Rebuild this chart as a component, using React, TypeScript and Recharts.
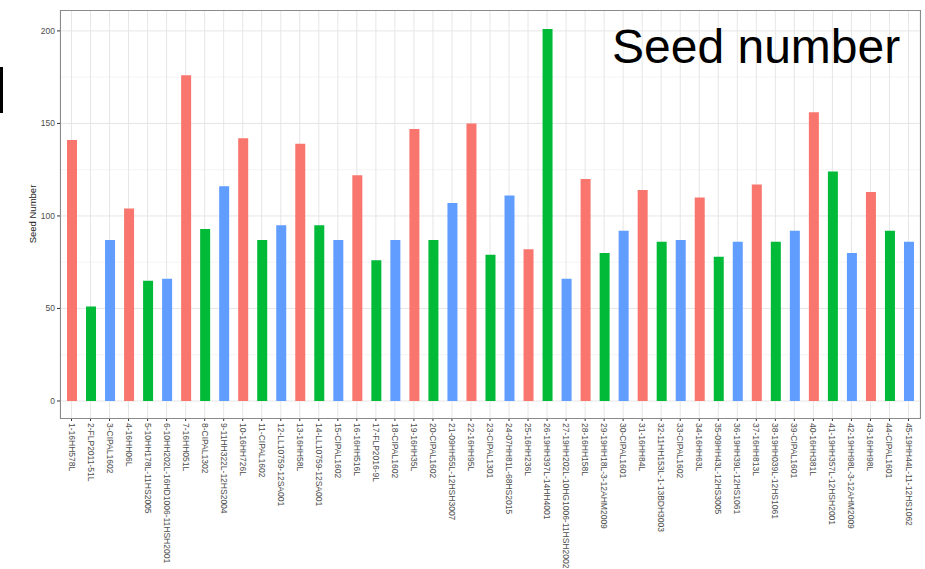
import { Bar, BarChart, CartesianGrid, Cell, Label, XAxis, YAxis } from "recharts";

const lines = [
  "1-16HH578L", "2-FLP2011-51L", "3-CIPAL1602", "4-16HH06L", "5-10HH178L-11HS2005",
  "6-10HH202L-16HD1006-11HSH2001", "7-16HH051L", "8-CIPAL1302", "9-11HH322L-12HS2004", "10-16HH726L",
  "11-CIPAL1602", "12-LL10759-12SA001", "13-16HH58L", "14-LL10759-12SA001", "15-CIPAL1602",
  "16-16HH516L", "17-FLP2016-9L", "18-CIPAL1602", "19-16HH35L", "20-CIPAL1602",
  "21-09HH55L-12HSH3007", "22-16HH95L", "23-CIPAL1301", "24-07HH81L-68HS2015", "25-16HH236L",
  "26-19HH397L-14HH4001", "27-19HH202L-10HG1006-11HSH2002", "28-16HH158L", "29-19HH18L-3-12AHM2009", "30-CIPAL1601",
  "31-16HH84L", "32-11HH153L-1-13BDH3003", "33-CIPAL1602", "34-16HH63L", "35-09HH43L-12HS3005",
  "36-19HH39L-12HS1061", "37-16HH813L", "38-19HH039L-12HS1061", "39-CIPAL1601", "40-16HH381L",
  "41-19HH357L-12HSH2001", "42-19HH98L-3-12AHM2009", "43-16HH98L", "44-CIPAL1601", "45-19HH44L-11-12HS1062",
];

const seedNumbers = [
  141, 51, 87, 104, 65, 66, 176, 93, 116, 142,
  87, 95, 139, 95, 87, 122, 76, 87, 147, 87,
  107, 150, 79, 111, 82, 201, 66, 120, 80, 92,
  114, 86, 87, 110, 78, 86, 117, 86, 92, 156,
  124, 80, 113, 92, 86,
];

// ggplot default hues, cycling red / green / blue
const groupColors = ["#F8766D", "#00BA38", "#619CFF"];
const yTicks = [0, 50, 100, 150, 200];
const yMinorTicks = [25, 75, 125, 175];

const data = lines.map((line, i) => ({ line, seeds: seedNumbers[i] }));

const font = "'Liberation Sans', Arial, sans-serif";

function LineTick({ x, y, payload }: any) {
  return (
    <text
      x={x}
      y={y}
      dy="0.35em"
      transform={`rotate(90 ${x} ${y})`}
      textAnchor="start"
      fontSize={8.5}
      fontFamily={font}
      fill="#4D4D4D"
    >
      {payload.value}
    </text>
  );
}

export default function App() {
  return (
    <div style={{ position: "absolute", left: 0, top: 0, width: 925, height: 569, background: "#fff" }}>
      <BarChart width={925} height={569} data={data} margin={{ top: 10, right: 5, bottom: 0, left: 0 }}>
        <CartesianGrid stroke="#F4F4F4" horizontalValues={yMinorTicks} vertical={false} />
        <CartesianGrid stroke="#E6E6E6" horizontalValues={yTicks} />
        <XAxis
          dataKey="line"
          interval={0}
          height={151}
          padding={{ left: 2, right: 2 }}
          axisLine={false}
          tickSize={3}
          tickLine={{ stroke: "#333" }}
          tickMargin={2}
          tick={<LineTick />}
        />
        <YAxis
          width={60}
          domain={[-9.2, 211.3]}
          ticks={yTicks}
          axisLine={false}
          tickSize={3}
          tickLine={{ stroke: "#333" }}
          tickMargin={2}
          tick={{ fontSize: 8.5, fontFamily: font, fill: "#4D4D4D" }}
        >
          <Label
            content={({ viewBox }: any) => (
              <text
                x={viewBox.x + 33}
                y={viewBox.y + viewBox.height / 2}
                transform={`rotate(-90 ${viewBox.x + 33} ${viewBox.y + viewBox.height / 2})`}
                textAnchor="middle"
                dy="0.35em"
                fontSize={9.5}
                fontFamily={font}
                fill="#222"
              >
                Seed Number
              </text>
            )}
          />
        </YAxis>
        <Bar dataKey="seeds" barSize={10} isAnimationActive={false}>
          {data.map((d, i) => (
            <Cell key={d.line} fill={groupColors[i % 3]} />
          ))}
        </Bar>
      </BarChart>
      <div
        style={{
          position: "absolute", left: 60, top: 10, width: 859, height: 407,
          border: "1px solid #8a8a8a", pointerEvents: "none",
        }}
      />
      <div
        style={{
          position: "absolute", left: 612, top: 17, fontFamily: font, fontSize: 48,
          color: "#000", whiteSpace: "nowrap", lineHeight: "60px",
        }}
      >
        Seed number
      </div>
      <div style={{ position: "absolute", left: 0, top: 67, width: 3, height: 46, background: "#000" }} />
    </div>
  );
}
